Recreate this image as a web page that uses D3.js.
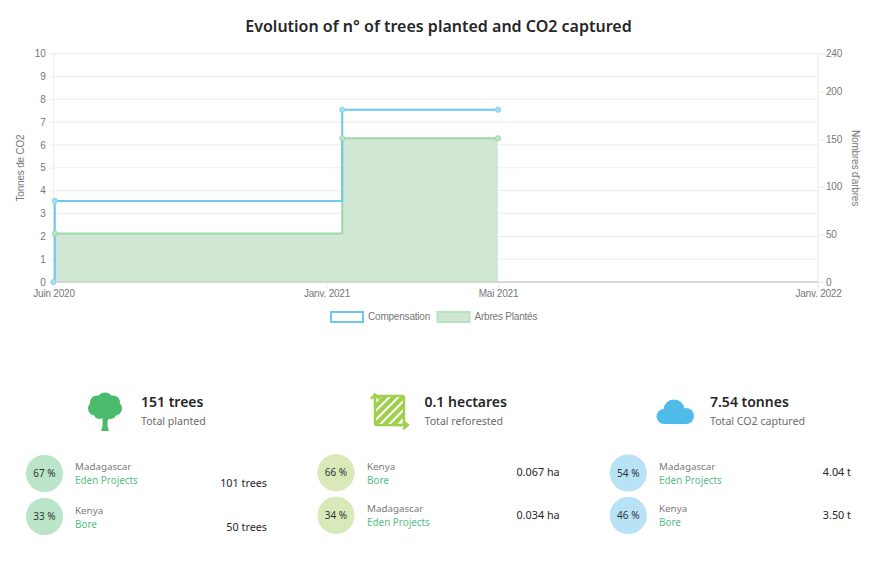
<!DOCTYPE html>
<html>
<head>
<meta charset="utf-8">
<script src="https://d3js.org/d3.v7.min.js"></script>
<style>
	body { margin: 0; background: #fff; }
	svg { display: block; }
	.ui { font-family: "Noto Sans", sans-serif; }
	.chart-text { font-family: "Liberation Sans", Arial, sans-serif; fill: #777; letter-spacing: -0.2px; }
	.axis path { display: none; }
</style>
</head>
<body>
<div id="chart-area"></div>
<script>
const svgWidth = 876,
	svgHeight = 574;
const margin = {left: 53.5, right: 58, top: 53.5, bottom: 292};

const areaWidth = svgWidth - margin.left - margin.right;
const areaHeight = svgHeight - margin.top - margin.bottom;

// chart values
const compensationDates = ['2020-06-01', '2020-06-02', '2021-01-12', '2021-05-01'];
const compensationValues = [0, 3.55, 7.54, 7.54];
const treeDates = ['2020-06-02', '2021-01-12', '2021-05-01'];
const treeValues = [51, 151, 151];

const xTickDates = ['2020-06-01', '2021-01-01', '2021-05-01', '2022-01-01'];
const xTickLabels = ['Juin 2020', 'Janv. 2021', 'Mai 2021', 'Janv. 2022'];
const yLeftTicks = [0, 1, 2, 3, 4, 5, 6, 7, 8, 9, 10];
const yRightTicks = [0, 50, 100, 150, 200, 240];

const legendLabels = ['Compensation', 'Arbres Plantés'];

// summary blocks
const totals = ['151 trees', '0.1 hectares', '7.54 tonnes'];
const totalLabels = ['Total planted', 'Total reforested', 'Total CO2 captured'];
const shares = [[67, 33], [66, 34], [54, 46]];
const countries = [['Madagascar', 'Kenya'], ['Kenya', 'Madagascar'], ['Madagascar', 'Kenya']];
const projects = [['Eden Projects', 'Bore'], ['Bore', 'Eden Projects'], ['Eden Projects', 'Bore']];
const amounts = [['101 trees', '50 trees'], ['0.067 ha', '0.034 ha'], ['4.04 t', '3.50 t']];

const parseDay = d3.utcParse('%Y-%m-%d');

const svg = d3.select('#chart-area')
	.append('svg')
	.attr('width', svgWidth)
	.attr('height', svgHeight);

svg.append('text')
	.attr('class', 'ui')
	.attr('x', 438.5)
	.attr('y', 32)
	.attr('text-anchor', 'middle')
	.attr('font-size', '16px')
	.attr('font-weight', 600)
	.attr('fill', '#262626')
	.text('Evolution of n° of trees planted and CO2 captured');

const area = svg.append('g')
	.attr('transform', `translate(${margin.left}, ${margin.top})`);

// the axis is not quite linear in time in the original, so pin each tick
const x = d3.scaleUtc()
	.domain(xTickDates.map(parseDay))
	.range([0, 273, 444.5, areaWidth]);
const yLeft = d3.scaleLinear().domain([0, 10]).range([areaHeight, 0]);
const yRight = d3.scaleLinear().domain([0, 240]).range([areaHeight, 0]);

// grid + left axis
const yLeftAxis = area.append('g')
	.attr('class', 'axis')
	.call(d3.axisLeft(yLeft).tickValues(yLeftTicks).tickSize(4).tickPadding(4));
yLeftAxis.selectAll('line').attr('stroke', '#ececec');
yLeftAxis.selectAll('text').attr('class', 'chart-text').attr('font-size', '10px').attr('font-family', null);

area.append('g')
	.selectAll('line')
	.data(yLeftTicks)
	.enter().append('line')
	.attr('x1', 0)
	.attr('x2', areaWidth)
	.attr('y1', d => yLeft(d))
	.attr('y2', d => yLeft(d))
	.attr('stroke', '#eeeeee')
	.attr('stroke-width', 1.2);

// vertical edges of the plot
area.selectAll('.edge')
	.data([0, areaWidth])
	.enter().append('line')
	.attr('class', 'edge')
	.attr('x1', d => d)
	.attr('x2', d => d)
	.attr('y1', 0)
	.attr('y2', areaHeight)
	.attr('stroke', '#eeeeee')
	.attr('stroke-width', 1.2);

// right axis
const yRightAxis = area.append('g')
	.attr('class', 'axis')
	.attr('transform', `translate(${areaWidth}, 0)`)
	.call(d3.axisRight(yRight).tickValues(yRightTicks).tickSize(7).tickPadding(1));
yRightAxis.selectAll('line').attr('stroke', '#ececec');
yRightAxis.selectAll('text').attr('class', 'chart-text').attr('font-size', '10px').attr('font-family', null);

// bottom axis
const xAxis = area.append('g')
	.attr('class', 'axis')
	.attr('transform', `translate(0, ${areaHeight})`)
	.call(d3.axisBottom(x)
		.tickValues(xTickDates.map(parseDay))
		.tickFormat((d, i) => xTickLabels[i])
		.tickSize(7)
		.tickPadding(1));
xAxis.selectAll('line').attr('stroke', '#ececec');
xAxis.selectAll('text').attr('class', 'chart-text').attr('font-size', '10px').attr('font-family', null);

const trees = treeDates.map((d, i) => ({date: parseDay(d), value: treeValues[i]}));
const compensation = compensationDates.map((d, i) => ({date: parseDay(d), value: compensationValues[i]}));

area.append('path')
	.datum(trees)
	.attr('fill', '#cfe7d3')
	.attr('d', d3.area()
		.curve(d3.curveStepAfter)
		.x(d => x(d.date))
		.y0(areaHeight)
		.y1(d => yRight(d.value)));

area.append('line')
	.attr('x1', 0)
	.attr('x2', areaWidth)
	.attr('y1', areaHeight)
	.attr('y2', areaHeight)
	.attr('stroke', '#cfcfcf')
	.attr('stroke-width', 1.4);

area.append('path')
	.datum(trees)
	.attr('fill', 'none')
	.attr('stroke', '#9bd8ab')
	.attr('stroke-width', 2)
	.attr('d', d3.line()
		.curve(d3.curveStepAfter)
		.x(d => x(d.date))
		.y(d => yRight(d.value)));

area.append('path')
	.datum(compensation)
	.attr('fill', 'none')
	.attr('stroke', '#6cc8ee')
	.attr('stroke-width', 2)
	.attr('d', d3.line()
		.curve(d3.curveStepAfter)
		.x(d => x(d.date))
		.y(d => yLeft(d.value)));

area.selectAll('.tree-point')
	.data(trees)
	.enter().append('circle')
	.attr('class', 'tree-point')
	.attr('cx', d => x(d.date))
	.attr('cy', d => yRight(d.value))
	.attr('r', 2.6)
	.attr('fill', '#bfe5c9')
	.attr('stroke', '#9bd8ab')
	.attr('stroke-width', 1);

area.selectAll('.comp-point')
	.data(compensation)
	.enter().append('circle')
	.attr('class', 'comp-point')
	.attr('cx', d => x(d.date))
	.attr('cy', d => yLeft(d.value))
	.attr('r', 2.6)
	.attr('fill', '#a6def5')
	.attr('stroke', '#84d2f0')
	.attr('stroke-width', 1);

// axis titles
svg.append('text')
	.attr('class', 'chart-text')
	.attr('transform', 'translate(23.5, 168) rotate(-90)')
	.attr('text-anchor', 'middle')
	.attr('font-size', '10px')
	.text('Tonnes de CO2');

svg.append('text')
	.attr('class', 'chart-text')
	.attr('transform', 'translate(852, 168) rotate(90)')
	.attr('text-anchor', 'middle')
	.attr('font-size', '10px')
	.text("Nombres d'arbres");

// legend
const legendX = [331, 437.5];
const legendStroke = ['#6cc8ee', '#b9e2c4'];
const legendFill = ['#fff', '#cfe7d3'];
legendLabels.forEach((label, i) => {
	svg.append('rect')
		.attr('x', legendX[i])
		.attr('y', 312)
		.attr('width', 32)
		.attr('height', 10)
		.attr('fill', legendFill[i])
		.attr('stroke', legendStroke[i])
		.attr('stroke-width', 2);
	svg.append('text')
		.attr('class', 'chart-text')
		.attr('x', legendX[i] + 37)
		.attr('y', 320)
		.attr('font-size', '10px')
		.text(label);
});

// summary blocks
const totalX = [141, 424.5, 710];
const circleX = [44.5, 336, 628.3];
const circleY = [[473.5, 516.5], [472.7, 515.3], [473, 515.5]];
const circleColor = ['#bae5c9', '#d9e9b9', '#b8e2f6'];
const labelX = [75, 367, 659];
const countryY = [[470, 514], [470, 512], [470, 512]];
const amountX = [267, 516.5, 851];
const amountAnchor = ['end', 'start', 'end'];
const amountY = [[487, 531], [476, 519], [476, 519]];

totals.forEach((total, i) => {
	const block = svg.append('g').attr('class', 'ui');

	block.append('text')
		.attr('x', totalX[i])
		.attr('y', 407)
		.attr('font-size', '14px')
		.attr('font-weight', 600)
		.attr('fill', '#262626')
		.text(total);
	block.append('text')
		.attr('x', totalX[i])
		.attr('y', 425)
		.attr('font-size', '10.6px')
		.attr('fill', '#6b6b6b')
		.text(totalLabels[i]);

	shares[i].forEach((share, j) => {
		block.append('circle')
			.attr('cx', circleX[i])
			.attr('cy', circleY[i][j])
			.attr('r', 18.6)
			.attr('fill', circleColor[i]);
		block.append('text')
			.attr('x', circleX[i])
			.attr('y', circleY[i][j] + 3.5)
			.attr('text-anchor', 'middle')
			.attr('font-size', '10px')
			.attr('fill', '#333')
			.text(`${share} %`);
		block.append('text')
			.attr('x', labelX[i])
			.attr('y', countryY[i][j])
			.attr('font-size', '9.8px')
			.attr('fill', '#7b7b7b')
			.text(countries[i][j]);
		block.append('text')
			.attr('x', labelX[i])
			.attr('y', countryY[i][j] + 14)
			.attr('font-size', '9.9px')
			.attr('fill', '#55bd85')
			.text(projects[i][j]);
		block.append('text')
			.attr('x', amountX[i])
			.attr('y', amountY[i][j])
			.attr('text-anchor', amountAnchor[i])
			.attr('font-size', '10.8px')
			.attr('fill', '#262626')
			.text(amounts[i][j]);
	});
});

// icons
const treeIcon = svg.append('g').attr('fill', '#4abb6c');
[[105, 401, 8.5], [97, 402.5, 7], [113, 402.5, 7], [95, 408.5, 7], [115, 408.5, 7], [99.5, 413, 6], [110.5, 413, 6], [105, 408, 9]]
	.forEach(c => treeIcon.append('circle').attr('cx', c[0]).attr('cy', c[1]).attr('r', c[2]));
treeIcon.append('path').attr('d', 'M102.5 416 L102.5 426 L101 431 L109 431 L107.5 426 L107.5 421 L111 416 Z');

const landIcon = svg.append('g');
const clip = landIcon.append('clipPath').attr('id', 'land-clip');
clip.append('rect').attr('x', 376).attr('y', 397).attr('width', 27).attr('height', 27);
landIcon.append('rect')
	.attr('x', 375).attr('y', 396).attr('width', 29).attr('height', 29).attr('rx', 2)
	.attr('fill', '#fff').attr('stroke', '#9fcf4c').attr('stroke-width', 2.4);
const stripes = landIcon.append('g').attr('clip-path', 'url(#land-clip)');
[-18, -9, 0, 9, 18].forEach(o => {
	stripes.append('line')
		.attr('x1', 375 + o).attr('y1', 425)
		.attr('x2', 404 + o).attr('y2', 396)
		.attr('stroke', '#9fcf4c').attr('stroke-width', 4.4);
});
landIcon.append('path')
	.attr('fill', 'none').attr('stroke', '#9fcf4c').attr('stroke-width', 2.4)
	.attr('d', 'M375 405 L375 396 M371 399 L375 394.5 L380 399 M395 425 L406 425 M403 421 L408 425 L403 429');

const cloudIcon = svg.append('g').attr('fill', '#4fbbe9');
[[664, 416.5, 7.5], [674, 410, 10.5], [686, 416, 8]]
	.forEach(c => cloudIcon.append('circle').attr('cx', c[0]).attr('cy', c[1]).attr('r', c[2]));
cloudIcon.append('rect').attr('x', 664).attr('y', 414).attr('width', 22).attr('height', 10);
</script>
</body>
</html>
